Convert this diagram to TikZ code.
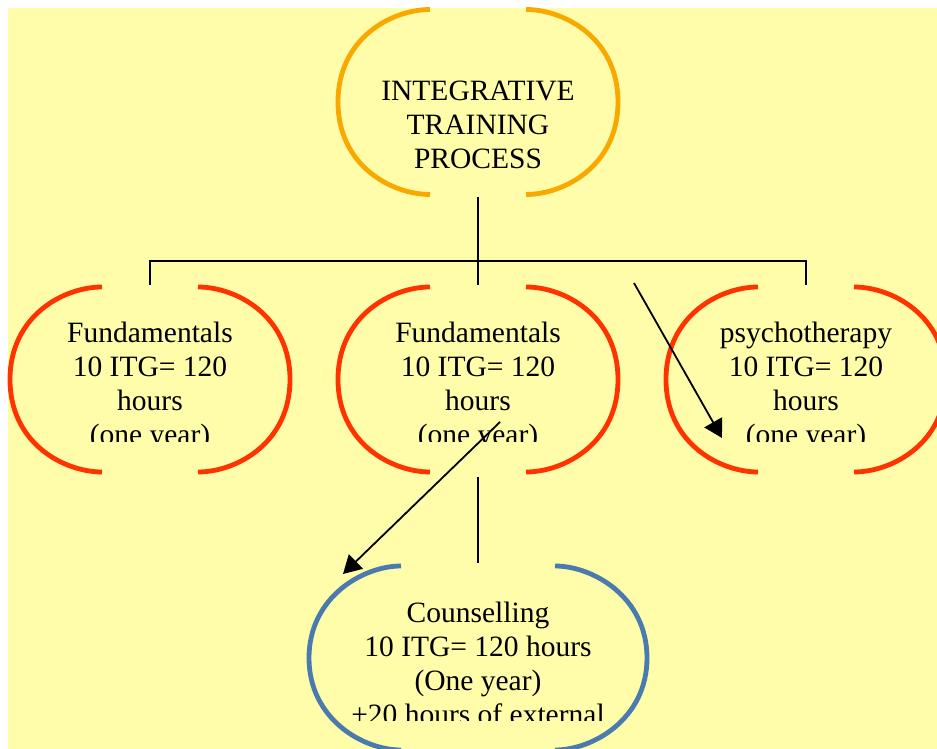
\documentclass[tikz,border=0pt]{standalone}
\usepackage{fontspec}
\setmainfont{Liberation Serif}
\usetikzlibrary{arrows.meta}
\definecolor{padyellow}{HTML}{FFFCAA}
\definecolor{rootorange}{HTML}{F9A800}
\definecolor{levelred}{HTML}{FF3300}
\definecolor{counsblue}{HTML}{4A7BAF}
\tikzset{
  bubbletext/.style={align=center, inner sep=0pt, font=\fontsize{29.5}{34}\selectfont},
  rim/.style={line width=4.8pt},
  link/.style={line width=2pt},
  pointer/.style={line width=1.8pt, -{Triangle[length=18pt,width=20pt]}}
}
\begin{document}
\begin{tikzpicture}[x=1pt,y=1pt]
  \useasboundingbox (0,0) rectangle (937,749);
  \fill[padyellow] (8,0) rectangle (937,741);
  \begin{scope}[shift={(478,647)}]
    \draw[rim,rootorange] (-48,92.5) .. controls (-86,92.5) and (-140,64) .. (-140,0) .. controls (-140,-64) and (-86,-92.5) .. (-48,-92.5);
    \draw[rim,rootorange] (48,92.5) .. controls (86,92.5) and (140,64) .. (140,0) .. controls (140,-64) and (86,-92.5) .. (48,-92.5);
  \end{scope}
  \foreach \cx in {150,478,806} {
    \begin{scope}[shift={(\cx,369.5)}]
      \draw[rim,levelred] (-48,92.5) .. controls (-86,92.5) and (-140,64) .. (-140,0) .. controls (-140,-64) and (-86,-92.5) .. (-48,-92.5);
      \draw[rim,levelred] (48,92.5) .. controls (86,92.5) and (140,64) .. (140,0) .. controls (140,-64) and (86,-92.5) .. (48,-92.5);
    \end{scope}
  }
  \begin{scope}[shift={(478,91)}]
    \draw[rim,counsblue] (-77,92) .. controls (-115,92) and (-169,61) .. (-169,0) .. controls (-169,-61) and (-115,-92) .. (-77,-92);
    \draw[rim,counsblue] (77,92) .. controls (115,92) and (169,61) .. (169,0) .. controls (169,-61) and (115,-92) .. (77,-92);
  \end{scope}
  \begin{scope}
    \clip (0,307) rectangle (937,749);
    \node[bubbletext] (itp) at (478,624.5) {INTEGRATIVE\\TRAINING\\PROCESS};
    \node[bubbletext] (fundleft) at (150,362.5) {Fundamentals\\10 ITG= 120\\hours\\(one year)};
    \node[bubbletext] (fundmid) at (478,362.5) {Fundamentals\\10 ITG= 120\\hours\\(one year)};
    \node[bubbletext] (psycho) at (806,363) {psychotherapy\\10 ITG= 120\\hours\\(one year)};
  \end{scope}
  \begin{scope}
    \clip (0,28) rectangle (937,300);
    \node[bubbletext] (couns) at (478,85.5) {Counselling\\10 ITG= 120 hours\\(One year)\\+20 hours of external};
  \end{scope}
  \coordinate (stem top) at (478,552);
  \coordinate (stem foot) at (478,464);
  \coordinate (bar left) at (150,488);
  \coordinate (bar right) at (806,488);
  \coordinate (drop left) at (150,464);
  \coordinate (drop right) at (806,464);
  \coordinate (neck top) at (478,272);
  \coordinate (neck foot) at (478,186);
  \coordinate (psy tail) at (634,466);
  \coordinate (psy head) at (722,311);
  \coordinate (couns tail) at (500,327);
  \coordinate (couns head) at (343,175);
  \draw[link] (stem top) -- (stem foot);
  \draw[link] (drop left) -- (bar left) -- (bar right) -- (drop right);
  \draw[link] (neck top) -- (neck foot);
  \draw[pointer] (psy tail) -- (psy head);
  \draw[pointer] (couns tail) -- (couns head);
\end{tikzpicture}
\end{document}
